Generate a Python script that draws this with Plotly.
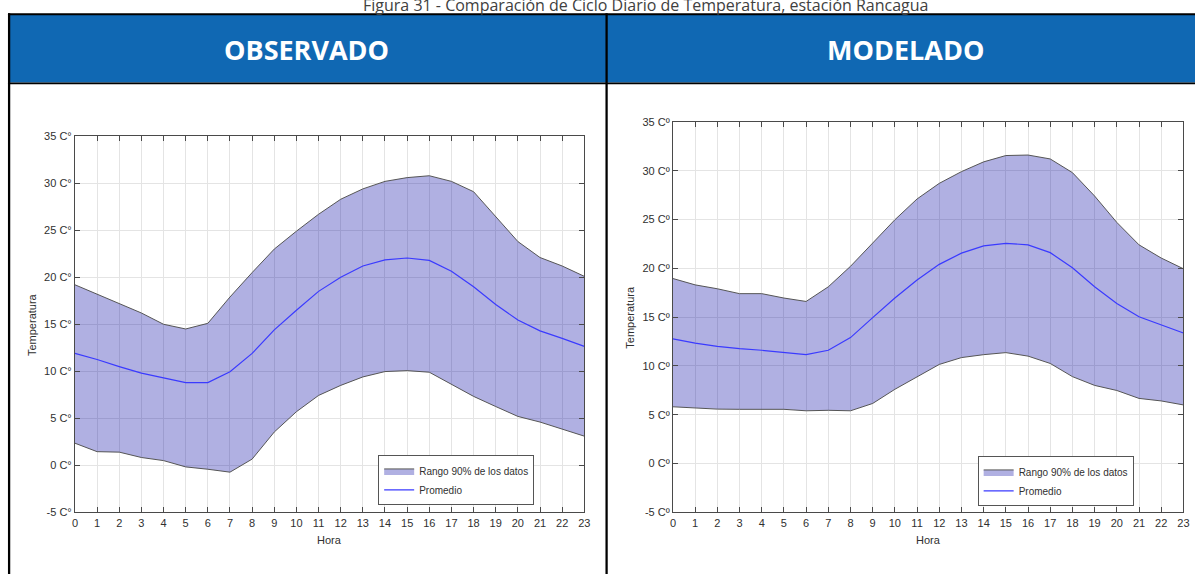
import plotly.graph_objects as go

W, H = 1201, 580

hours = list(range(24))

obs_upper = [19.2, 18.2, 17.2, 16.2, 15.0, 14.5, 15.1, 17.9, 20.5, 23.0, 24.9, 26.7,
             28.3, 29.4, 30.2, 30.6, 30.8, 30.2, 29.1, 26.5, 23.8, 22.1, 21.2, 20.1]
obs_mean = [11.9, 11.25, 10.5, 9.8, 9.3, 8.8, 8.8, 9.95, 11.9, 14.4, 16.5, 18.5,
            20.0, 21.2, 21.85, 22.05, 21.8, 20.65, 19.0, 17.1, 15.45, 14.3, 13.5, 12.65]
obs_lower = [2.35, 1.45, 1.4, 0.83, 0.5, -0.17, -0.42, -0.73, 0.66, 3.54, 5.7, 7.43,
             8.5, 9.4, 9.97, 10.07, 9.9, 8.65, 7.33, 6.25, 5.2, 4.6, 3.85, 3.1]

mod_upper = [18.95, 18.3, 17.9, 17.4, 17.4, 16.95, 16.6, 18.1, 20.2, 22.6, 24.97, 27.1,
             28.7, 29.9, 30.9, 31.55, 31.6, 31.2, 29.8, 27.4, 24.7, 22.4, 21.05, 19.95]
mod_mean = [12.76, 12.33, 12.0, 11.76, 11.6, 11.36, 11.16, 11.6, 12.9, 14.94, 16.95, 18.8,
            20.4, 21.55, 22.3, 22.56, 22.4, 21.6, 20.05, 18.1, 16.4, 15.04, 14.17, 13.37]
mod_lower = [5.81, 5.67, 5.57, 5.55, 5.58, 5.55, 5.4, 5.45, 5.4, 6.15, 7.6, 8.9,
             10.15, 10.85, 11.15, 11.36, 11.0, 10.25, 8.9, 8.0, 7.48, 6.67, 6.41, 6.0]

ytick_vals = [-5, 0, 5, 10, 15, 20, 25, 30, 35]
obs_ytick_text = ["-5 C°", "0 C°", "5 C°", "10 C°", "15 C°", "20 C°", "25 C°", "30 C°", "35 C°"]
mod_ytick_text = ["-5 Cº", "0 Cº", "5 Cº", "10 Cº", "15 Cº", "20 Cº", "25 Cº", "30 Cº", "35 Cº"]

title_text = "Figura 31 - Comparación de Ciclo Diario de Temperatura, estación Rancagua"
headers = ["OBSERVADO", "MODELADO"]
band_name = "Rango 90% de los datos"
mean_name = "Promedio"
ytitle = "Temperatura"
xtitle = "Hora"

FILL = "rgba(0,0,160,0.31)"
EDGE = "#555555"
MEAN = "#3a3aff"
AX = "#4a4a4a"
TXT = "#303030"


def px(x):
    return x / W


def py(y):
    return 1 - y / H


fig = go.Figure()

for lo, mu, up, leg, xa, ya in [
        (obs_lower, obs_mean, obs_upper, "legend", "x", "y"),
        (mod_lower, mod_mean, mod_upper, "legend2", "x2", "y2")]:
    fig.add_trace(go.Scatter(x=hours, y=lo, mode="lines", line=dict(color=EDGE, width=1),
                             showlegend=False, xaxis=xa, yaxis=ya, legend=leg, hoverinfo="skip"))
    fig.add_trace(go.Scatter(x=hours, y=up, mode="lines", line=dict(color=EDGE, width=1),
                             fill="tonexty", fillcolor=FILL, name=band_name,
                             xaxis=xa, yaxis=ya, legend=leg))
    fig.add_trace(go.Scatter(x=hours, y=mu, mode="lines", line=dict(color=MEAN, width=1.2),
                             name=mean_name, xaxis=xa, yaxis=ya, legend=leg))

axis_common = dict(showline=True, linecolor=AX, linewidth=1, mirror="ticks",
                   ticks="inside", ticklen=5, tickcolor=AX, showgrid=True,
                   gridcolor="#e4e4e4", gridwidth=1, zeroline=False,
                   tickfont=dict(family="Liberation Sans, Arial", size=11, color=TXT))

legend_common = dict(xanchor="left", yanchor="bottom", traceorder="normal",
                     bgcolor="white", bordercolor="#555555", borderwidth=1,
                     font=dict(family="Liberation Sans, Arial", size=10, color=TXT),
                     tracegroupgap=0, itemwidth=30)

fig.update_layout(
    width=W, height=H,
    margin=dict(l=0, r=0, t=0, b=0),
    paper_bgcolor="white", plot_bgcolor="white",
    xaxis=dict(domain=[px(72.5), px(585.7)], range=[0, 23], tickmode="array",
               tickvals=hours, anchor="y", **axis_common),
    yaxis=dict(domain=[py(517), py(133)], range=[-5, 35], tickmode="array",
               tickvals=ytick_vals, ticktext=obs_ytick_text, anchor="x", **axis_common),
    xaxis2=dict(domain=[px(675), px(1189.3)], range=[0, 23], tickmode="array",
                tickvals=hours, anchor="y2", **axis_common),
    yaxis2=dict(domain=[py(517), py(118.3)], range=[-5, 35], tickmode="array",
                tickvals=ytick_vals, ticktext=mod_ytick_text, anchor="x2", **axis_common),
    legend=dict(x=px(378), y=py(510), **legend_common),
    legend2=dict(x=px(982), y=py(511), **legend_common),
    showlegend=True,
)

shapes = [
    # blue header band
    dict(type="rect", xref="paper", yref="paper", x0=px(6), x1=px(1201), y0=py(78), y1=py(9),
         fillcolor="#1068b3", line=dict(width=0), layer="below"),
    # top border
    dict(type="rect", xref="paper", yref="paper", x0=px(5), x1=px(1201), y0=py(9.5), y1=py(7.5),
         fillcolor="black", line=dict(width=0)),
    # header bottom border
    dict(type="rect", xref="paper", yref="paper", x0=px(5), x1=px(1201), y0=py(80), y1=py(78),
         fillcolor="black", line=dict(width=0)),
    # left border
    dict(type="rect", xref="paper", yref="paper", x0=px(5), x1=px(7.3), y0=0, y1=py(7.5),
         fillcolor="black", line=dict(width=0)),
    # column divider
    dict(type="rect", xref="paper", yref="paper", x0=px(607), x1=px(609.3), y0=0, y1=py(7.5),
         fillcolor="black", line=dict(width=0)),
]
fig.update_layout(shapes=shapes)

ann = [
    dict(text=title_text, x=px(648), y=py(12), xref="paper", yref="paper",
         xanchor="center", yanchor="bottom", showarrow=False,
         font=dict(family="Open Sans", size=16, color="#404040")),
    dict(text="<b>%s</b>" % headers[0], x=px(306), y=py(44), xref="paper", yref="paper",
         xanchor="center", yanchor="middle", showarrow=False,
         font=dict(family="Open Sans", size=27, color="white")),
    dict(text="<b>%s</b>" % headers[1], x=px(909), y=py(44), xref="paper", yref="paper",
         xanchor="center", yanchor="middle", showarrow=False,
         font=dict(family="Open Sans", size=27, color="white")),
    dict(text=ytitle, x=px(30), y=py(325), xref="paper", yref="paper", textangle=-90,
         xanchor="center", yanchor="middle", showarrow=False,
         font=dict(family="Liberation Sans, Arial", size=11, color=TXT)),
    dict(text=ytitle, x=px(632), y=py(318), xref="paper", yref="paper", textangle=-90,
         xanchor="center", yanchor="middle", showarrow=False,
         font=dict(family="Liberation Sans, Arial", size=11, color=TXT)),
    dict(text=xtitle, x=px(329), y=py(545), xref="paper", yref="paper",
         xanchor="center", yanchor="middle", showarrow=False,
         font=dict(family="Liberation Sans, Arial", size=11, color=TXT)),
    dict(text=xtitle, x=px(932), y=py(545), xref="paper", yref="paper",
         xanchor="center", yanchor="middle", showarrow=False,
         font=dict(family="Liberation Sans, Arial", size=11, color=TXT)),
]
fig.update_layout(annotations=ann)

fig.write_html("out.html")
